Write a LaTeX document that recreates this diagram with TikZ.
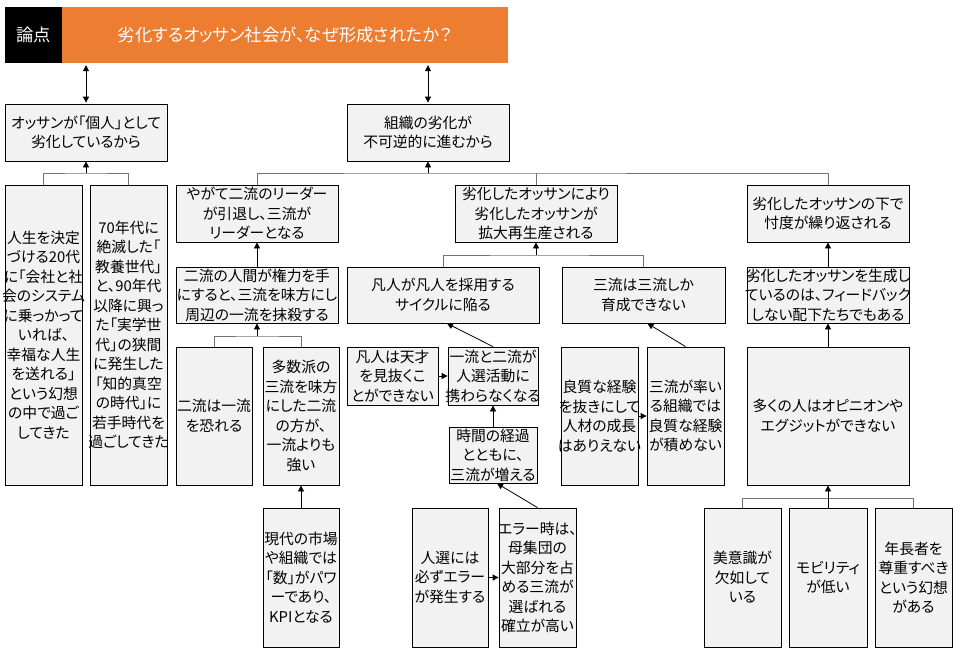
\documentclass[tikz,border=0pt]{standalone}
\usepackage{fontspec}
\setmainfont{Noto Sans CJK JP}[RawFeature=+palt]
\usetikzlibrary{arrows.meta}

\definecolor{boxgray}{HTML}{F2F2F2}
\definecolor{hdrorange}{HTML}{ED7D31}

\tikzset{
  box/.style={draw, fill=boxgray, line width=0.8pt, inner xsep=-4pt, inner ysep=0pt, align=center,
    font=\fontsize{14.8}{19.5}\selectfont},
  arr/.style={-{Triangle[length=6pt,width=6pt]}, line width=0.8pt},
  dblarr/.style={{Triangle[length=6pt,width=6pt]}-{Triangle[length=6pt,width=6pt]}, line width=0.8pt},
  branch/.style={draw=black!55, line width=0.8pt},
  hdr/.style={inner sep=0pt, minimum height=56pt, text=white, font=\fontsize{17.3}{22}\selectfont}
}

\begin{document}
\begin{tikzpicture}[x=1pt,y=-1pt]
  \useasboundingbox (0,0) rectangle (960,651);

  \node[hdr, fill=black, minimum width=57pt] (ronten) at (33.5,35) {論点};
  \node[hdr, fill=hdrorange, minimum width=446pt] (title) at (285,35) {劣化するオッサン社会が、なぜ形成されたか？};

  \node[box, minimum width=162pt, minimum height=57pt] (kojin) at (86,132.5) {オッサンが「個人」として\\劣化しているから};
  \node[box, minimum width=162pt, minimum height=57pt] (soshiki) at (428,132.5) {組織の劣化が\\不可逆的に進むから};

  \node[box, minimum width=77pt, minimum height=300pt] (jinsei) at (43.5,335) {人生を決定\\づける20代\\に「会社と社\\会のシステム\\に乗っかって\\いれば、\\幸福な人生\\を送れる」\\という幻想\\の中で過ご\\してきた};
  \node[box, minimum width=77pt, minimum height=300pt] (kyoyo) at (128.5,335) {70年代に\\絶滅した「\\教養世代」\\と、90年代\\以降に興っ\\た「実学世\\代」の狭間\\に発生した\\「知的真空\\の時代」に\\若手時代を\\過ごしてきた};

  \node[box, minimum width=162pt, minimum height=57pt] (leader) at (257,213.5) {やがて二流のリーダー\\が引退し、三流が\\リーダーとなる};
  \node[box, minimum width=162pt, minimum height=56pt] (kenryoku) at (257,295) {二流の人間が権力を手\\にすると、三流を味方にし\\周辺の一流を抹殺する};
  \node[box, minimum width=76pt, minimum height=138pt] (osoreru) at (214,416) {二流は一流\\を恐れる};
  \node[box, minimum width=76pt, minimum height=138pt] (tasuu) at (301,416) {多数派の\\三流を味方\\にした二流\\の方が、\\一流よりも\\強い};
  \node[box, minimum width=76pt, minimum height=139pt] (kazu) at (301,577.5) {現代の市場\\や組織では\\「数」がパワ\\ーであり、\\KPIとなる};

  \node[box, minimum width=162pt, minimum height=57pt] (kakudai) at (536,213.5) {劣化したオッサンにより\\劣化したオッサンが\\拡大再生産される};
  \node[box, minimum width=192pt, minimum height=56pt] (bonjin) at (443,295) {凡人が凡人を採用する\\サイクルに陥る};
  \node[box, minimum width=163pt, minimum height=56pt] (sanryu) at (643.5,295) {三流は三流しか\\育成できない};
  \node[box, minimum width=91pt, minimum height=58pt] (minuku) at (392.5,376) {凡人は天才\\を見抜くこ\\とができない};
  \node[box, minimum width=90pt, minimum height=58pt] (jinsen) at (493,376) {一流と二流が\\人選活動に\\携わらなくなる};
  \node[box, minimum width=88pt, minimum height=56pt] (jikan) at (493,455) {時間の経過\\とともに、\\三流が増える};
  \node[box, minimum width=76pt, minimum height=139pt] (hassei) at (450,577.5) {人選には\\必ずエラー\\が発生する};
  \node[box, minimum width=77pt, minimum height=139pt] (error) at (537.5,577.5) {エラー時は、\\母集団の\\大部分を占\\める三流が\\選ばれる\\確立が高い};
  \node[box, minimum width=77pt, minimum height=138pt] (keiken) at (599.5,416) {良質な経験\\を抜きにして\\人材の成長\\はありえない};
  \node[box, minimum width=77pt, minimum height=138pt] (hikiiru) at (685.5,416) {三流が率い\\る組織では\\良質な経験\\が積めない};

  \node[box, minimum width=162pt, minimum height=57pt] (sontaku) at (828,213.5) {劣化したオッサンの下で\\忖度が繰り返される};
  \node[box, minimum width=162pt, minimum height=56pt] (feedback) at (828,295) {劣化したオッサンを生成し\\ているのは、フィードバック\\しない配下たちでもある};
  \node[box, minimum width=162pt, minimum height=138pt] (opinion) at (828,416) {多くの人はオピニオンや\\エグジットができない};
  \node[box, minimum width=77pt, minimum height=139pt] (biishiki) at (742.5,577.5) {美意識が\\欠如して\\いる};
  \node[box, minimum width=78pt, minimum height=139pt] (mobility) at (828,577.5) {モビリティ\\が低い};
  \node[box, minimum width=77pt, minimum height=139pt] (chojo) at (913.5,577.5) {年長者を\\尊重すべき\\という幻想\\がある};

  \draw[dblarr] ([yshift=-2pt]kojin.north |- title.south) -- ([yshift=1pt]kojin.north);
  \draw[dblarr] ([yshift=-2pt]soshiki.north |- title.south) -- ([yshift=1pt]soshiki.north);

  \coordinate (jKojin) at (86,173);
  \draw[branch] (jinsei.north) |- (jKojin) -| (kyoyo.north);
  \draw[arr] (jKojin) -- (kojin.south);

  \coordinate (jSoshiki) at (428,173);
  \draw[branch] (leader.north) |- (jSoshiki) -| (sontaku.north);
  \draw[branch] (kakudai.north) -- (kakudai.north |- jSoshiki);
  \draw[arr] (jSoshiki) -- (soshiki.south);

  \draw[arr] (kenryoku) -- (leader);
  \coordinate (jKenryoku) at (257,336);
  \draw[branch] (osoreru.north) |- (jKenryoku) -| (tasuu.north);
  \draw[arr] (jKenryoku) -- (kenryoku.south);
  \draw[arr] (kazu) -- (tasuu);

  \coordinate (jKakudai) at (536,255);
  \draw[branch] (bonjin.north) |- (jKakudai) -| (sanryu.north);
  \draw[arr] (jKakudai) -- (kakudai.south);
  \draw[arr] (jinsen.north) -- ([xshift=4pt]bonjin.south);
  \draw[arr] (minuku) -- (jinsen);
  \draw[arr] (jikan) -- (jinsen);
  \draw[arr] (error.north) -- ([xshift=4pt]jikan.south);
  \draw[arr] (hassei) -- (error);
  \draw[arr] (keiken) -- (hikiiru);
  \draw[arr] (hikiiru.north) -- ([xshift=4pt]sanryu.south);

  \draw[arr] (feedback) -- (sontaku);
  \draw[arr] (opinion) -- (feedback);
  \coordinate (jOpinion) at (828,498);
  \draw[branch] (biishiki.north) |- (jOpinion) -| (chojo.north);
  \draw[arr] (mobility) -- (opinion);
\end{tikzpicture}
\end{document}
